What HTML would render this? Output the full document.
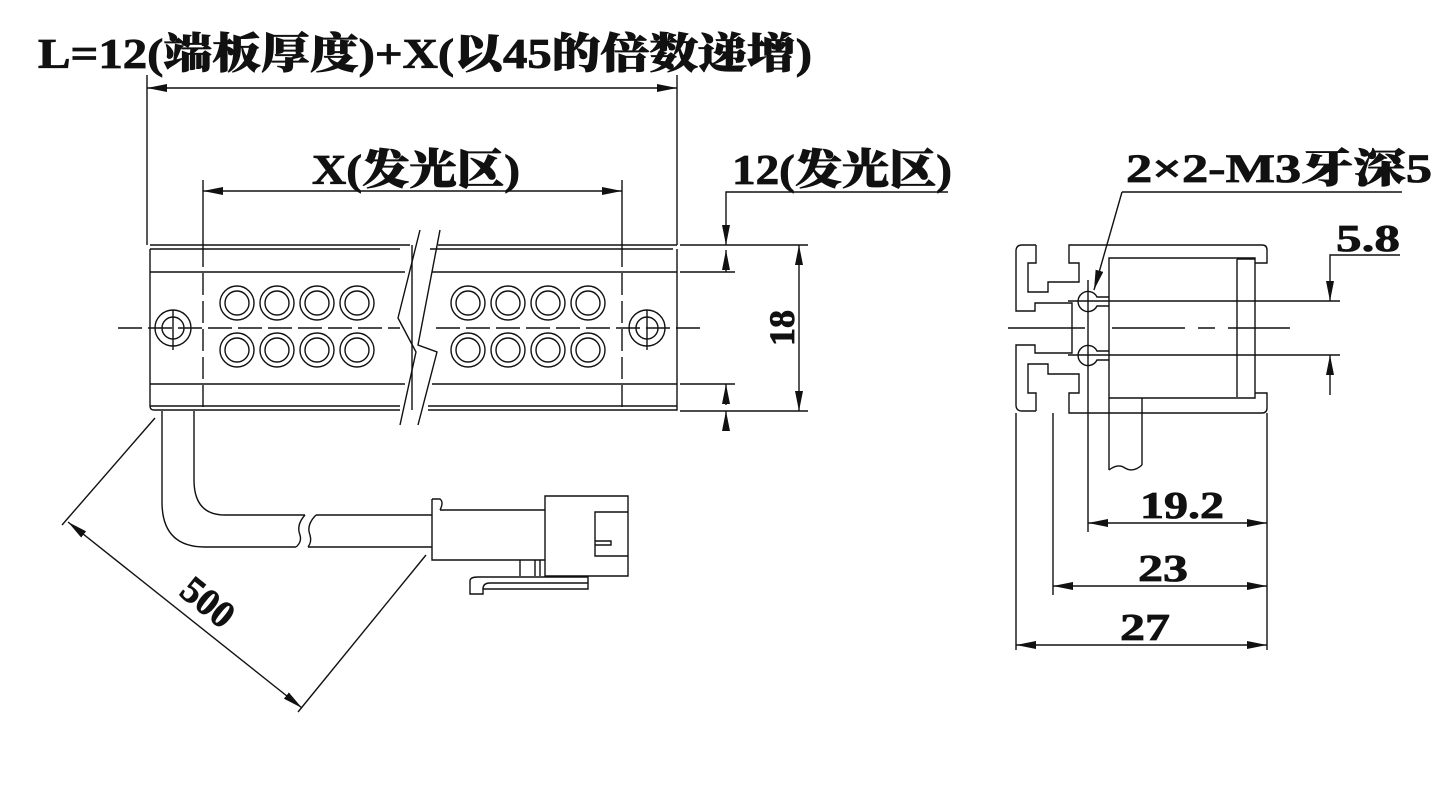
<!DOCTYPE html>
<html><head><meta charset="utf-8"><style>
body{margin:0;background:#fff}
svg{display:block}
text{font-family:"Liberation Serif","Noto Serif CJK SC",serif;font-weight:900;fill:#111;stroke:#111;stroke-width:0.8}
</style></head><body>
<svg width="1453" height="789" viewBox="0 0 1453 789" xmlns="http://www.w3.org/2000/svg">
<defs>
<marker id="a" viewBox="0 0 20 8" refX="20" refY="4" markerWidth="20" markerHeight="8" markerUnits="userSpaceOnUse" orient="auto-start-reverse"><path d="M0,0 L20,4 L0,8 Z" fill="#111"/></marker>
</defs>
<text x="38" y="68" font-size="42" textLength="774" lengthAdjust="spacingAndGlyphs">L=12(端板厚度)+X(以45的倍数递增)</text>
<text x="312" y="184" font-size="42" textLength="208" lengthAdjust="spacingAndGlyphs">X(发光区)</text>
<text x="732" y="184" font-size="42" textLength="220" lengthAdjust="spacingAndGlyphs">12(发光区)</text>
<text x="1126" y="182" font-size="40" textLength="306" lengthAdjust="spacingAndGlyphs">2×2-M3牙深5</text>
<text x="1336" y="251" font-size="38" textLength="64" lengthAdjust="spacingAndGlyphs">5.8</text>
<text x="1140" y="518" font-size="38" textLength="84" lengthAdjust="spacingAndGlyphs">19.2</text>
<text x="1138" y="581" font-size="38" textLength="50" lengthAdjust="spacingAndGlyphs">23</text>
<text x="1120" y="640" font-size="38" textLength="50" lengthAdjust="spacingAndGlyphs">27</text>
<text x="794" y="328" font-size="36" text-anchor="middle" transform="rotate(-90 794 328)">18</text>
<text x="200" y="612" font-size="38" text-anchor="middle" transform="rotate(39 200 612)">500</text>

<g fill="none" stroke="#111" stroke-width="1.4">
<line x1="147" y1="75" x2="147" y2="245"/>
<line x1="677" y1="75" x2="677" y2="245"/>
<line x1="147" y1="88" x2="677" y2="88" marker-start="url(#a)" marker-end="url(#a)"/>
<line x1="203" y1="180" x2="203" y2="245"/>
<line x1="622" y1="180" x2="622" y2="245"/>
<line x1="203" y1="191" x2="622" y2="191" marker-start="url(#a)" marker-end="url(#a)"/>
<path d="M150,245 H410 M438,245 H677 M150,249 V406 Q150,410 154,410 H400 M428,410 H677 V249"/>
<path d="M150,249 H400 M430,249 H673"/>
<path d="M150,272 H405 M432,272 H677 M150,384 H405 M432,384 H677"/>
<path d="M150,406 H400 M428,406 H677"/>
<path d="M420,230 L398,318 L416,352 L400,425"/>
<path d="M440,230 L418,345 L437,352 L418,425"/>
<line x1="412" y1="245" x2="412" y2="410"/>
<path d="M203,245 V410 M622,245 V410" stroke-dasharray="22,6"/>
<path d="M118,328 H400 M436,328 H700" stroke-dasharray="24,6"/>
<circle cx="173" cy="328" r="18"/><circle cx="173" cy="328" r="11"/>
<line x1="173" y1="310" x2="173" y2="350"/>
<circle cx="647" cy="328" r="18"/><circle cx="647" cy="328" r="11"/>
<line x1="647" y1="310" x2="647" y2="350"/>
<g>
<circle cx="237" cy="303" r="17"/><circle cx="237" cy="303" r="12"/>
<circle cx="277" cy="303" r="17"/><circle cx="277" cy="303" r="12"/>
<circle cx="317" cy="303" r="17"/><circle cx="317" cy="303" r="12"/>
<circle cx="357" cy="303" r="17"/><circle cx="357" cy="303" r="12"/>
<circle cx="237" cy="350" r="17"/><circle cx="237" cy="350" r="12"/>
<circle cx="277" cy="350" r="17"/><circle cx="277" cy="350" r="12"/>
<circle cx="317" cy="350" r="17"/><circle cx="317" cy="350" r="12"/>
<circle cx="357" cy="350" r="17"/><circle cx="357" cy="350" r="12"/>
<circle cx="468" cy="303" r="17"/><circle cx="468" cy="303" r="12"/>
<circle cx="508" cy="303" r="17"/><circle cx="508" cy="303" r="12"/>
<circle cx="548" cy="303" r="17"/><circle cx="548" cy="303" r="12"/>
<circle cx="588" cy="303" r="17"/><circle cx="588" cy="303" r="12"/>
<circle cx="468" cy="350" r="17"/><circle cx="468" cy="350" r="12"/>
<circle cx="508" cy="350" r="17"/><circle cx="508" cy="350" r="12"/>
<circle cx="548" cy="350" r="17"/><circle cx="548" cy="350" r="12"/>
<circle cx="588" cy="350" r="17"/><circle cx="588" cy="350" r="12"/>
</g>
<path d="M680,245 H808 M680,272 H735 M680,384 H735 M680,411 H808"/>
<path d="M948,192 H726 V230"/>
<line x1="726" y1="230" x2="726" y2="245" marker-end="url(#a)"/>
<line x1="726" y1="250" x2="726" y2="272" marker-start="url(#a)"/>
<line x1="726" y1="384" x2="726" y2="405" marker-start="url(#a)"/>
<line x1="726" y1="411" x2="726" y2="430" marker-start="url(#a)"/>
<line x1="799" y1="245" x2="799" y2="411" marker-start="url(#a)" marker-end="url(#a)"/>
<path d="M162,411 V502 Q162,547 205,547 H296 M308,547 H432"/>
<path d="M194,411 V480 Q194,515 225,515 H305 M316,515 H432"/>
<path d="M305,515 Q296,525 300,535 Q302,542 296,547 M316,515 Q306,525 310,535 Q312,542 308,547"/>
<path d="M432,499 H440 Q444,502 440,510 M432,499 V560 H545 M440,510 H545"/>
<path d="M545,496 H628 V576 H545 Z"/>
<path d="M628,512 H595 V556 H628"/>
<path d="M595,541 H611 V545 H595"/>
<path d="M520,560 V576 M535,560 V576 M540,560 V576"/>
<path d="M588,576 V589 H483 V594 H470 V581 Q470,577 478,577 H588"/>
<path d="M483,589 Q483,583 490,583 H588"/>
<line x1="155" y1="418" x2="62" y2="525"/>
<line x1="426" y1="555" x2="298" y2="712"/>
<line x1="68" y1="522" x2="302" y2="708" marker-start="url(#a)" marker-end="url(#a)"/>

<path d="M1036,245 H1022 Q1016,245 1016,251 V311 H1035 V303 H1072 V353 H1035 V345 H1016 V405 Q1016,411 1022,411 H1036"/>
<path d="M1036,245 V263 H1028 V292 H1048 V282 H1079 V263 H1069 V245 H1262 Q1267,245 1267,250 V263 H1255"/>
<path d="M1036,411 V393 H1028 V364 H1048 V374 H1079 V393 H1069 V413 H1262 Q1267,413 1267,408 V393 H1255"/>
<path d="M1109,258 H1255 V398 H1109 Z"/>
<path d="M1237,259 V397 M1237,259 H1255"/>
<path d="M1109,297 H1097 A10,10 0 1,0 1097,306 H1109"/>
<path d="M1109,351 H1097 A10,10 0 1,0 1097,360 H1109"/>
<path d="M1088,280 V532 M1053,413 V595 M1016,413 V650 M1267,413 V650"/>
<path d="M1142,398 V465 M1109,398 V470"/>
<path d="M1109,470 Q1118,463 1125,468 Q1133,473 1142,465"/>
<path d="M1068,301 H1340 M1068,355 H1340"/>
<path d="M1008,328 H1085 M1112,328 H1185 M1198,328 H1215 M1228,328 H1290" />
<path d="M1402,192 H1122"/>
<line x1="1122" y1="192" x2="1094" y2="290" marker-end="url(#a)"/>
<path d="M1400,255 H1330 V280"/>
<line x1="1330" y1="280" x2="1330" y2="301" marker-end="url(#a)"/>
<line x1="1330" y1="355" x2="1330" y2="395" marker-start="url(#a)"/>
<line x1="1088" y1="523" x2="1267" y2="523" marker-start="url(#a)" marker-end="url(#a)"/>
<line x1="1053" y1="586" x2="1267" y2="586" marker-start="url(#a)" marker-end="url(#a)"/>
<line x1="1016" y1="645" x2="1267" y2="645" marker-start="url(#a)" marker-end="url(#a)"/>
</g>
</svg>
</body></html>
